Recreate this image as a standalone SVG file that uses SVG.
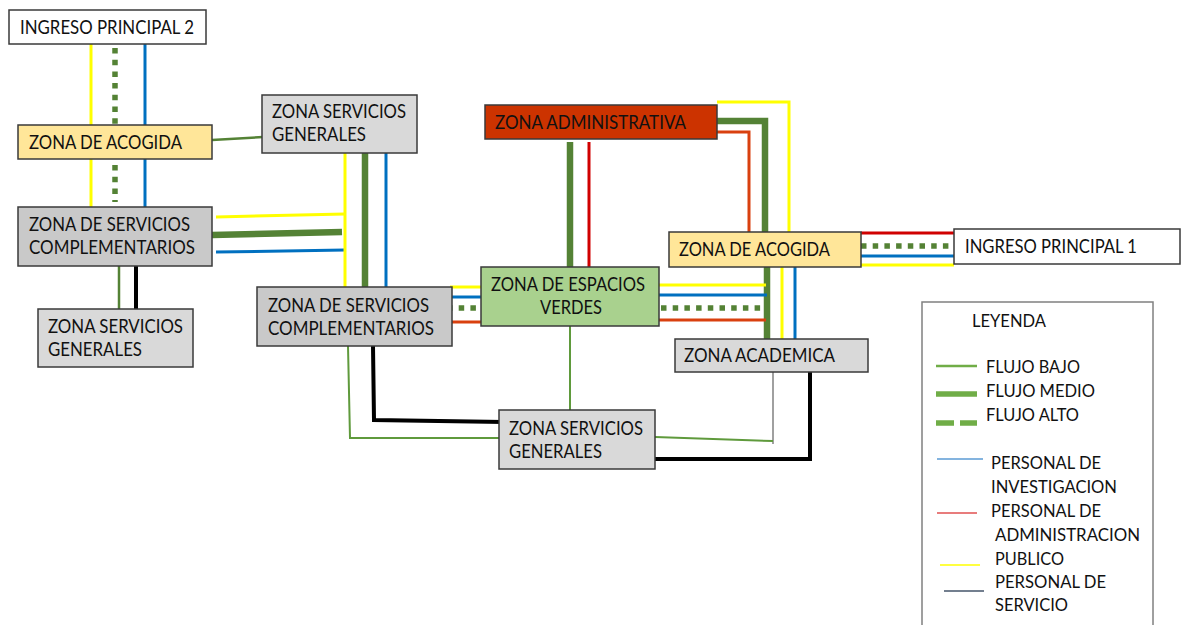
<svg xmlns="http://www.w3.org/2000/svg" width="1185" height="625" viewBox="0 0 1185 625">
<style>
.n{stroke:#3a3a3a;stroke-width:1.5}
.w{fill:#ffffff}.g1{fill:#c9c9c9}.g2{fill:#d9d9d9}.ac{fill:#ffe699}.ad{fill:#cc3300}.ev{fill:#a9d18e}
text{font-family:Lato,"Liberation Sans",sans-serif;font-size:18.5px;fill:#111}
.lg{font-size:16.5px}
line,polyline{fill:none}
.y{stroke:#ffff00;stroke-width:3}
.b{stroke:#0070c0;stroke-width:3}
.r{stroke:#d9400f;stroke-width:3}
.rr{stroke:#d00000;stroke-width:3}
.gt{stroke:#548235;stroke-width:6.5}
.gs{stroke:#548235;stroke-width:2.5}
.gl{stroke:#5f9a3c;stroke-width:2}
.gd{stroke:#548235;stroke-width:5.5;stroke-dasharray:5.5 6.2}
.k{stroke:#000;stroke-width:4}
</style>
<g id="connectors">
<line class="y" x1="91" y1="44" x2="91" y2="210"/>
<line class="gd" x1="115" y1="48" x2="115" y2="202"/>
<line class="b" x1="145" y1="44" x2="145" y2="208"/>
<line class="gs" x1="212" y1="140" x2="263" y2="137"/>
<line class="y" x1="216" y1="217" x2="345" y2="214"/>
<line class="gt" x1="212" y1="235" x2="342" y2="232"/>
<line class="b" x1="216" y1="252" x2="345" y2="250"/>
<line class="y" x1="345" y1="152" x2="345" y2="288"/>
<line class="gt" x1="365" y1="152" x2="365" y2="288"/>
<line class="b" x1="386" y1="152" x2="386" y2="288"/>
<line class="gs" x1="119" y1="266" x2="119" y2="309"/>
<line class="k" x1="136" y1="266" x2="136" y2="309"/>
<line class="y" x1="450" y1="287" x2="482" y2="287"/>
<line class="b" x1="452" y1="297" x2="482" y2="297"/>
<line class="gd" x1="447" y1="308" x2="482" y2="308"/>
<line class="r" x1="452" y1="322" x2="482" y2="322"/>
<line class="gt" x1="570" y1="142" x2="570" y2="268"/>
<line class="rr" x1="589" y1="142" x2="589" y2="268"/>
<polyline class="y" points="717,102 789,102 789,233"/>
<polyline class="gt" points="717,121 765,121 765,233"/>
<polyline class="r" points="717,132 749,132 749,233"/>
<line class="rr" x1="861" y1="233" x2="954" y2="233"/>
<line class="gd" x1="861" y1="246" x2="954" y2="246"/>
<line class="b" x1="861" y1="256" x2="954" y2="256"/>
<line class="y" x1="861" y1="265" x2="954" y2="265"/>
<line class="gt" x1="767" y1="262" x2="767" y2="339"/>
<line class="y" x1="782" y1="262" x2="782" y2="339"/>
<line class="b" x1="795" y1="262" x2="795" y2="339"/>
<line class="y" x1="659" y1="285" x2="766" y2="285"/>
<line class="b" x1="659" y1="295" x2="767" y2="295"/>
<line class="gd" x1="661" y1="308" x2="766" y2="308"/>
<line class="r" x1="659" y1="320" x2="766" y2="320"/>
<line class="gl" x1="570" y1="326" x2="570" y2="410"/>
<polyline class="gl" points="348,346 350,438 502,438"/>
<polyline class="k" points="373,346 374,420 504,422"/>
<line stroke="#808080" stroke-width="1.5" x1="773" y1="372" x2="773" y2="444"/>
<line class="gl" x1="655" y1="437" x2="773" y2="441"/>
<polyline class="k" points="810,372 810,459 655,459"/>
</g>
<g id="ingreso2"><rect class="n w" x="9" y="10" width="197" height="34"/><text x="20" y="34" textLength="174" lengthAdjust="spacingAndGlyphs">INGRESO PRINCIPAL 2</text></g>
<g id="acogida-izq"><rect class="n ac" x="18" y="125" width="194" height="34"/><text x="29" y="149" textLength="153" lengthAdjust="spacingAndGlyphs">ZONA DE ACOGIDA</text></g>
<g id="serv-comp-izq"><rect class="n g1" x="18" y="207" width="194" height="59"/><text x="29" y="231" textLength="161" lengthAdjust="spacingAndGlyphs">ZONA DE SERVICIOS</text><text x="29" y="254" textLength="166" lengthAdjust="spacingAndGlyphs">COMPLEMENTARIOS</text></g>
<g id="serv-gen-izq"><rect class="n g2" x="38" y="309" width="155" height="58"/><text x="48" y="333" textLength="135" lengthAdjust="spacingAndGlyphs">ZONA SERVICIOS</text><text x="48" y="356" textLength="94" lengthAdjust="spacingAndGlyphs">GENERALES</text></g>
<g id="serv-gen-sup"><rect class="n g2" x="262" y="95" width="155" height="58"/><text x="272" y="118" textLength="134" lengthAdjust="spacingAndGlyphs">ZONA SERVICIOS</text><text x="272" y="141" textLength="94" lengthAdjust="spacingAndGlyphs">GENERALES</text></g>
<g id="serv-comp-centro"><rect class="n g1" x="257" y="287" width="195" height="59"/><text x="268" y="312" textLength="161" lengthAdjust="spacingAndGlyphs">ZONA DE SERVICIOS</text><text x="268" y="335" textLength="166" lengthAdjust="spacingAndGlyphs">COMPLEMENTARIOS</text></g>
<g id="administrativa"><rect class="n ad" x="485" y="105" width="232" height="34"/><text x="495" y="129" textLength="191" lengthAdjust="spacingAndGlyphs">ZONA ADMINISTRATIVA</text></g>
<g id="espacios-verdes"><rect class="n ev" x="481" y="267" width="178" height="59"/><text x="491" y="291" textLength="154" lengthAdjust="spacingAndGlyphs">ZONA DE ESPACIOS</text><text x="540" y="314" textLength="62" lengthAdjust="spacingAndGlyphs">VERDES</text></g>
<g id="acogida-der"><rect class="n ac" x="669" y="232" width="192" height="35"/><text x="679" y="256" textLength="151" lengthAdjust="spacingAndGlyphs">ZONA DE ACOGIDA</text></g>
<g id="ingreso1"><rect class="n w" x="954" y="229" width="226" height="35"/><text x="965" y="253" textLength="172" lengthAdjust="spacingAndGlyphs">INGRESO PRINCIPAL 1</text></g>
<g id="academica"><rect class="n g2" x="675" y="339" width="193" height="33"/><text x="684" y="362" textLength="151" lengthAdjust="spacingAndGlyphs">ZONA ACADEMICA</text></g>
<g id="serv-gen-inf"><rect class="n g2" x="499" y="410" width="156" height="59"/><text x="509" y="435" textLength="134" lengthAdjust="spacingAndGlyphs">ZONA SERVICIOS</text><text x="509" y="458" textLength="93" lengthAdjust="spacingAndGlyphs">GENERALES</text></g>
<g id="leyenda">
<rect x="922" y="302" width="231" height="340" fill="#fff" stroke="#808080" stroke-width="1.5"/>
<text class="lg" x="972" y="327" textLength="74" lengthAdjust="spacingAndGlyphs">LEYENDA</text>
<line x1="936" y1="366" x2="977" y2="366" stroke="#70ad47" stroke-width="2.5"/>
<text class="lg" x="986" y="373" textLength="94" lengthAdjust="spacingAndGlyphs">FLUJO BAJO</text>
<line x1="936" y1="394" x2="977" y2="394" stroke="#70ad47" stroke-width="5.5"/>
<text class="lg" x="986" y="397" textLength="109" lengthAdjust="spacingAndGlyphs">FLUJO MEDIO</text>
<line x1="936" y1="423" x2="977" y2="423" stroke="#70ad47" stroke-width="5.5" stroke-dasharray="18 6"/>
<text class="lg" x="986" y="421" textLength="93" lengthAdjust="spacingAndGlyphs">FLUJO ALTO</text>
<line x1="937" y1="459" x2="983" y2="459" stroke="#5b9bd5" stroke-width="1.5"/>
<text class="lg" x="991" y="469" textLength="110" lengthAdjust="spacingAndGlyphs">PERSONAL DE</text>
<text class="lg" x="991" y="493" textLength="126" lengthAdjust="spacingAndGlyphs">INVESTIGACION</text>
<line x1="937" y1="513" x2="977" y2="513" stroke="#e05050" stroke-width="1.5"/>
<text class="lg" x="991" y="517" textLength="110" lengthAdjust="spacingAndGlyphs">PERSONAL DE</text>
<text class="lg" x="995" y="541" textLength="145" lengthAdjust="spacingAndGlyphs">ADMINISTRACION</text>
<line x1="940" y1="565" x2="980" y2="565" stroke="#ffff00" stroke-width="1.5"/>
<text class="lg" x="995" y="565" textLength="69" lengthAdjust="spacingAndGlyphs">PUBLICO</text>
<line x1="944" y1="591" x2="984" y2="591" stroke="#44546a" stroke-width="1.5"/>
<text class="lg" x="995" y="588" textLength="111" lengthAdjust="spacingAndGlyphs">PERSONAL DE</text>
<text class="lg" x="995" y="611" textLength="73" lengthAdjust="spacingAndGlyphs">SERVICIO</text>
</g>
</svg>
